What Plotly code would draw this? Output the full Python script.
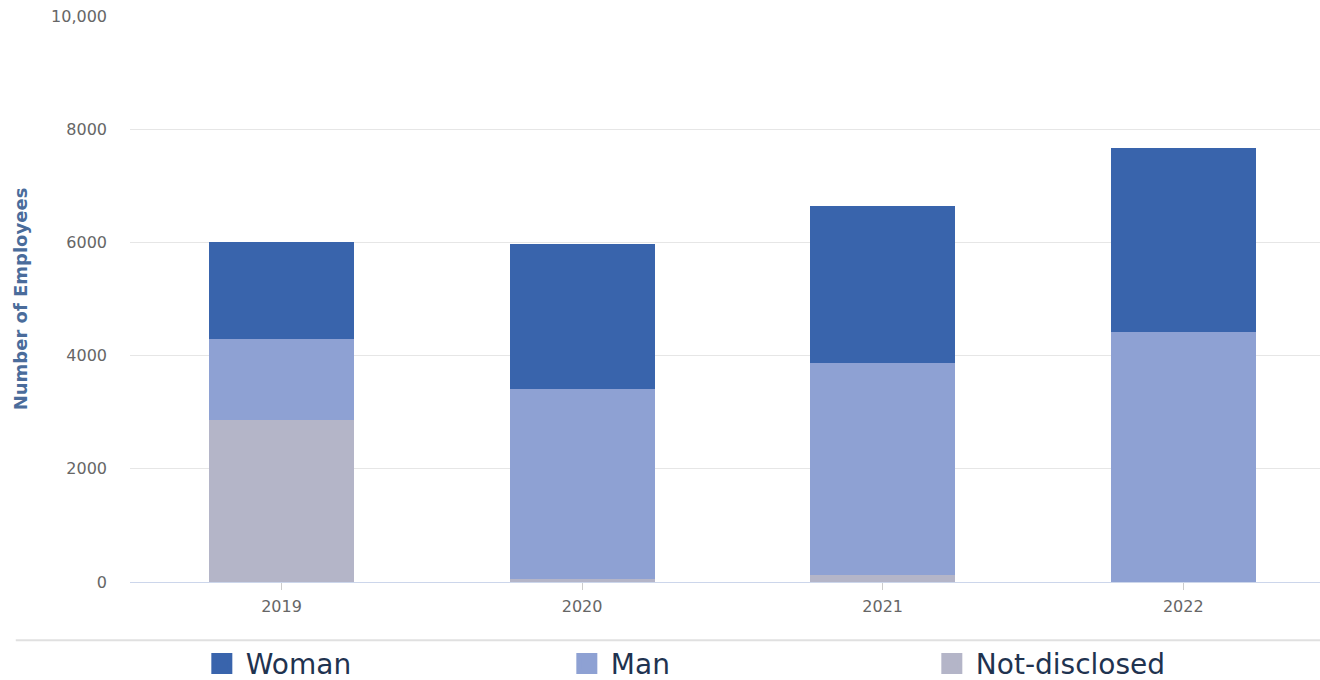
import plotly.graph_objects as go

years = ["2019", "2020", "2021", "2022"]
woman = [1709, 2556, 2783, 3239]
man = [1425, 3353, 3742, 4425]
not_disclosed = [2866, 60, 125, 0]

series_names = ["Woman", "Man", "Not-disclosed"]
series_colors = ["#3964ac", "#8ea1d3", "#b4b5c8"]

y_tickvals = [0, 2000, 4000, 6000, 8000, 10000]
y_ticktext = ["0", "2000", "4000", "6000", "8000", "10,000"]

fig = go.Figure()
# stack order: bottom to top
for name, vals, col in [("Not-disclosed", not_disclosed, series_colors[2]),
                        ("Man", man, series_colors[1]),
                        ("Woman", woman, series_colors[0])]:
    fig.add_trace(go.Bar(x=years, y=vals, name=name, marker=dict(color=col, line=dict(width=0)),
                         showlegend=False))

# legend entries
for name, col in zip(series_names, series_colors):
    fig.add_trace(go.Scatter(x=[None], y=[None], mode="markers", name=name,
                             marker=dict(symbol="square", size=16, color=col,
                                         line=dict(color=col, width=5))))

fig.update_layout(
    width=1320, height=680,
    barmode="stack", bargap=0.518,
    paper_bgcolor="white", plot_bgcolor="white",
    margin=dict(l=130, r=0, t=16, b=98),
    font=dict(family="DejaVu Sans", color="#666666"),
    xaxis=dict(range=[-0.504, 3.455], showgrid=False, showline=True, linecolor="#ccd6eb",
               linewidth=1, ticks="outside", ticklen=7, tickcolor="#cccccc",
               ticklabelstandoff=3,
               tickfont=dict(size=16, color="#666666"), fixedrange=True),
    yaxis=dict(range=[0, 10000], tickvals=y_tickvals, ticktext=y_ticktext,
               gridcolor="#e6e6e6", gridwidth=1, zeroline=False, showline=False,
               tickfont=dict(size=16, color="#666666"), ticklabelstandoff=22,
               title=dict(text="<b>Number of Employees</b>", font=dict(size=18, color="#4a6c9b"),
                          standoff=18)),
    legend=dict(orientation="h", traceorder="normal",
                xref="paper", x=0.057, xanchor="left",
                yref="container", y=0.024, yanchor="middle",
                bgcolor="rgba(0,0,0,0)",
                font=dict(size=28, color="#1f3350"), entrywidth=312, entrywidthmode="pixels",
                itemwidth=38, itemsizing="trace"),
    shapes=[dict(type="line", xref="paper", yref="paper", x0=-0.096, x1=1.0,
                 y0=-0.103, y1=-0.103, line=dict(color="#e0e0e0", width=2))],
)

fig.write_html("out.html")
